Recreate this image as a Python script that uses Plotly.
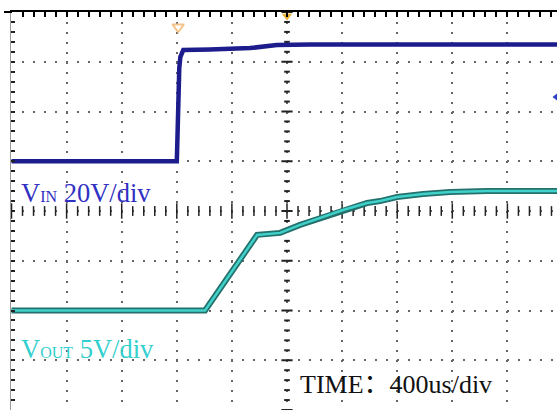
import numpy as np
import plotly.graph_objects as go

# ---------------- data (read from the scope capture) ----------------
# time in microseconds, 400 us/div
vin_time_us = [0, 1200, 1205, 1212, 1218, 1226, 1247, 1441, 1731, 1927, 2167, 3960]
vin_volts   = [0, 0,    10,   30,   37.5, 42,   44.7, 44.9, 45.5, 46.7, 46.9, 46.9]

vout_time_us = [0, 1405, 1783, 1950, 2095, 2262, 2407, 2581, 2675, 2799, 2988, 3184, 3453, 3960]
vout_volts   = [0, 0,    7.6,  7.8,  8.6,  9.4,  10.1, 10.8, 11.0, 11.4, 11.7, 11.9, 12.0, 12.0]

TIME_PER_DIV = 400      # us
VIN_PER_DIV = 20        # V
VOUT_PER_DIV = 5        # V
VIN_GROUND_DIV = 1      # channel offsets (divisions from centre)
VOUT_GROUND_DIV = -2
TRIGGER_T = 2000        # us (screen centre)

# ---------------- geometry ----------------
W, H = 557, 410
ML, MT = 11, 12
PW, PH = W - ML, H - MT
PX_PER_XDIV = 55.1
x_lo = -0.5 / PX_PER_XDIV * TIME_PER_DIV
x_hi = x_lo + PW / PX_PER_XDIV * TIME_PER_DIV

vin_range = [(-4 - VIN_GROUND_DIV) * VIN_PER_DIV, (4 - VIN_GROUND_DIV) * VIN_PER_DIV]
vout_range = [(-4 - VOUT_GROUND_DIV) * VOUT_PER_DIV, (4 - VOUT_GROUND_DIV) * VOUT_PER_DIV]
vin_centre = (0 - VIN_GROUND_DIV) * VIN_PER_DIV

def px_to_paper_x(px):
    return (px - ML) / PW

def px_to_paper_y(py):
    return 1 - (py - MT) / PH

fig = go.Figure()

# centre crosshair tick marks (graticule decoration)
t_minor = np.arange(0, x_hi, TIME_PER_DIV / 5)
is_major_t = np.isclose(t_minor % TIME_PER_DIV, 0)
fig.add_trace(go.Scatter(x=t_minor[~is_major_t], y=[vin_centre] * int((~is_major_t).sum()),
                         mode="markers", hoverinfo="skip", showlegend=False,
                         marker=dict(symbol="line-ns", size=7, line=dict(width=1.5, color="#222"))))
fig.add_trace(go.Scatter(x=t_minor[is_major_t], y=[vin_centre] * int(is_major_t.sum()),
                         mode="markers", hoverinfo="skip", showlegend=False,
                         marker=dict(symbol="line-ns", size=11, line=dict(width=1.5, color="#222"))))
v_minor = np.arange(vin_range[0], vin_range[1] + 0.01, VIN_PER_DIV / 5)
is_major_v = np.isclose(np.mod(v_minor - vin_range[0], VIN_PER_DIV), 0)
fig.add_trace(go.Scatter(x=[TRIGGER_T] * int((~is_major_v).sum()), y=v_minor[~is_major_v],
                         mode="markers", hoverinfo="skip", showlegend=False,
                         marker=dict(symbol="line-ew", size=4, line=dict(width=2, color="#222"))))
fig.add_trace(go.Scatter(x=[TRIGGER_T] * int(is_major_v.sum()), y=v_minor[is_major_v],
                         mode="markers", hoverinfo="skip", showlegend=False,
                         marker=dict(symbol="line-ew", size=8, line=dict(width=2, color="#222"))))

# waveforms
fig.add_trace(go.Scatter(x=vout_time_us, y=vout_volts, yaxis="y2", mode="lines",
                         line=dict(color="#23706c", width=6), showlegend=False, hoverinfo="skip"))
fig.add_trace(go.Scatter(x=vout_time_us, y=vout_volts, yaxis="y2", mode="lines",
                         line=dict(color="#40d2ca", width=2.5), showlegend=False, name="VOUT"))
fig.add_trace(go.Scatter(x=vin_time_us, y=vin_volts, mode="lines",
                         line=dict(color="#1c1c8c", width=4.5), showlegend=False, name="VIN"))

# scope markers
vspan = vin_range[1] - vin_range[0]
fig.add_trace(go.Scatter(x=[TRIGGER_T], y=[vin_range[1] - 4 / PH * vspan], mode="markers",
                         cliponaxis=False, hoverinfo="skip", showlegend=False,
                         marker=dict(symbol="triangle-down", size=9, color="#e8b030")))
fig.add_trace(go.Scatter(x=[1210], y=[vin_range[1] - 15 / PH * vspan],
                         mode="markers", cliponaxis=False, hoverinfo="skip", showlegend=False,
                         marker=dict(symbol="triangle-down-open", size=10, color="#f2c48a",
                                     line=dict(width=2, color="#f2c48a"))))
fig.add_trace(go.Scatter(x=[x_hi], y=[vin_range[1] - 85 / PH * vspan],
                         mode="markers", cliponaxis=False, hoverinfo="skip", showlegend=False,
                         marker=dict(symbol="triangle-left", size=9, color="#3040c8")))

dot_style = dict(showgrid=True, gridcolor="#666", gridwidth=1.5, zeroline=False,
                 showticklabels=False, automargin=False)

fig.update_layout(
    width=W, height=H,
    margin=dict(l=ML, r=0, t=MT, b=0, autoexpand=False),
    paper_bgcolor="white", plot_bgcolor="white",
    showlegend=False,
    xaxis=dict(range=[x_lo, x_hi], side="top", showline=True, linecolor="black", linewidth=2,
               ticks="inside", ticklen=5, tickwidth=1.5, tickcolor="black",
               tick0=0, dtick=TIME_PER_DIV, griddash="2px,7.95px",
               minor=dict(dtick=TIME_PER_DIV / 5, tick0=0, ticks="inside", ticklen=5,
                          tickwidth=1.5, tickcolor="black", showgrid=False),
               **dot_style),
    yaxis=dict(range=vin_range, showline=True, linecolor="#999", linewidth=1,
               ticks="inside", ticklen=4, tickwidth=2, tickcolor="#222",
               tick0=0, dtick=VIN_PER_DIV, griddash="2px,9.02px",
               minor=dict(dtick=VIN_PER_DIV / 5, tick0=0, ticks="inside", ticklen=4,
                          tickwidth=2, tickcolor="#222", showgrid=False),
               **dot_style),
    yaxis2=dict(range=vout_range, overlaying="y", visible=False),
    shapes=[dict(type="line", xref="paper", yref="paper",
                 x0=px_to_paper_x(4), x1=px_to_paper_x(12), y0=1, y1=1,
                 line=dict(color="black", width=2))],
    annotations=[
        dict(text='V<span style="font-size:16px">IN</span> 20V/div', xref="paper", yref="paper",
             x=px_to_paper_x(19), y=px_to_paper_y(210), xanchor="left", yanchor="bottom",
             showarrow=False, font=dict(family="Liberation Serif", size=26.5, color="#3030c4")),
        dict(text='V<span style="font-size:16px">OUT</span> 5V/div', xref="paper", yref="paper",
             x=px_to_paper_x(19), y=px_to_paper_y(366), xanchor="left", yanchor="bottom",
             showarrow=False, font=dict(family="Liberation Serif", size=26.5, color="#33cfcf")),
        dict(text='TIME：400us/div', xref="paper", yref="paper",
             x=px_to_paper_x(298), y=px_to_paper_y(401), xanchor="left", yanchor="bottom",
             showarrow=False,
             font=dict(family="Liberation Serif, Noto Sans CJK SC", size=26, color="#111")),
    ],
)

fig.write_html("out.html",
               config={"displayModeBar": False},
               post_script="document.body.style.margin='0';document.body.style.overflow='hidden';")
